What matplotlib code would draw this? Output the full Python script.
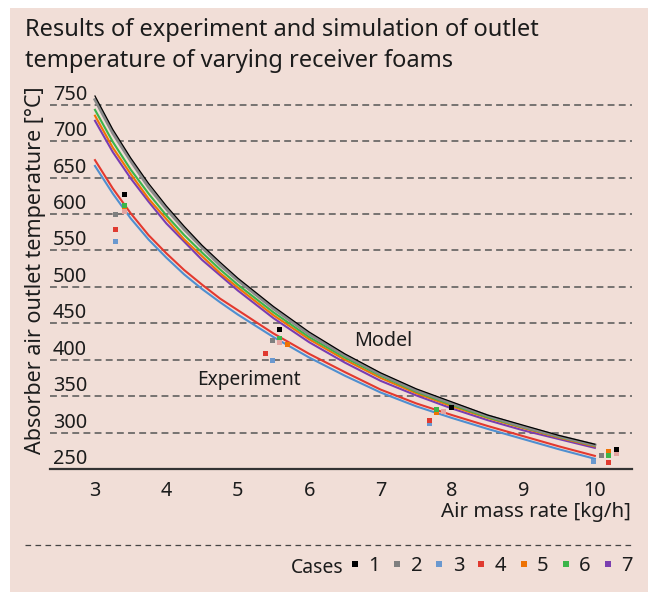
import matplotlib
matplotlib.use("Agg")
from matplotlib import pyplot as plt
from matplotlib.lines import Line2D
from matplotlib.patches import Rectangle

plt.rcParams['font.family'] = ['Noto Sans', 'DejaVu Sans']

# model curves (simulation), outlet temperature in degC
mass_rate = [3, 3.25, 3.5, 3.75, 4, 4.25, 4.5, 4.75, 5, 5.5, 6, 6.5, 7, 7.5, 8, 8.5, 9, 9.5, 10]
model_case1 = [762, 716, 677, 642, 611, 583, 557, 534, 512, 473, 438, 408, 382, 360, 342, 324, 310, 296, 284]
model_case2 = [757, 711, 673, 637, 607, 579, 554, 530, 509, 470, 435, 406, 380, 358, 340, 323, 308, 295, 283]
model_case3 = [666, 628, 594, 565, 540, 517, 497, 479, 462, 431, 403, 378, 355, 336, 320, 305, 291, 277, 264]
model_case4 = [674, 635, 601, 571, 546, 523, 503, 484, 468, 436, 408, 383, 359, 340, 324, 309, 295, 281, 268]
model_case5 = [735, 691, 655, 621, 593, 565, 542, 519, 499, 461, 428, 400, 375, 354, 336, 320, 306, 293, 281]
model_case6 = [743, 699, 661, 628, 598, 571, 547, 524, 503, 465, 431, 403, 378, 356, 338, 321, 307, 294, 282]
model_case7 = [728, 685, 649, 617, 587, 562, 537, 516, 495, 457, 424, 396, 371, 351, 333, 317, 303, 291, 279]

# experiment points
exp_x_case1 = [3.40, 5.58, 7.99, 10.29]
exp_t_case1 = [627, 442, 335, 277]
exp_x_case2 = [3.28, 5.48, 10.08]
exp_t_case2 = [600, 427, 269]
exp_x_case3 = [3.28, 5.48, 7.68, 9.98]
exp_t_case3 = [563, 400, 313, 261]
exp_x_case4 = [3.28, 5.38, 7.68, 10.19]
exp_t_case4 = [579, 409, 317, 259]
exp_x_case5 = [3.40, 5.69, 7.78, 10.19]
exp_t_case5 = [608, 421, 328, 275]
exp_x_case6 = [3.40, 5.58, 7.78, 10.19]
exp_t_case6 = [612, 430, 333, 269]
exp_x_case7 = [3.40, 5.58, 7.88, 10.29]
exp_t_case7 = [604, 424, 329, 272]

case_names = ["1", "2", "3", "4", "5", "6", "7"]
line_colors = ["#000000", "#8a8a8a", "#4f8fd0", "#e3392f", "#ef7406", "#3cb54a", "#7a3db2"]
marker_colors = ["#000000", "#7f7f7f", "#6a98cf", "#e03a30", "#ee7203", "#3cb54a", "#7b3fb0"]
exp_colors = ["#000000", "#7f7f7f", "#6a98cf", "#e03a30", "#ee7203", "#3cb54a", "#e4a4a0"]

bg = "#f1ded7"
txt = "#1c1c1c"

fig = plt.figure(figsize=(6.48, 5.92), dpi=100)
fig.patches.append(Rectangle((10 / 648, 0), 638 / 648, 584 / 592, transform=fig.transFigure,
                             facecolor=bg, edgecolor='none', zorder=-10))

ax = fig.add_axes([50 / 648, 123 / 592, 582 / 648, 381 / 592])
ax.patch.set_alpha(0)

models = [model_case1, model_case2, model_case3, model_case4, model_case5, model_case6, model_case7]
# lower curves first, thin black line on top of the wide gray one
order = [2, 3, 6, 4, 5, 1, 0]
widths = {0: 0.9, 1: 2.2}
for i in order:
    ax.plot(mass_rate, models[i], color=line_colors[i], lw=widths.get(i, 1.5), zorder=3,
            solid_joinstyle='round')

exp_x = [exp_x_case1, exp_x_case2, exp_x_case3, exp_x_case4, exp_x_case5, exp_x_case6, exp_x_case7]
exp_t = [exp_t_case1, exp_t_case2, exp_t_case3, exp_t_case4, exp_t_case5, exp_t_case6, exp_t_case7]
for i in [2, 3, 1, 4, 5, 6, 0]:
    ax.plot(exp_x[i], exp_t[i], 's', ls='none', ms=3.6, color=exp_colors[i], mew=0, zorder=4)

ax.set_xlim(2.37, 10.52)
ax.set_ylim(250, 773)
ax.set_xticks(range(3, 11))
ax.set_yticks(range(250, 751, 50))

ax.set_axisbelow(True)
ax.yaxis.grid(True, color="#555555", lw=1.1, linestyle=(0, (4.5, 2.8)))
for s in ['top', 'right', 'left']:
    ax.spines[s].set_visible(False)
ax.spines['bottom'].set_color('#333333')
ax.spines['bottom'].set_linewidth(1.6)

ax.tick_params(axis='y', length=0, pad=-26.6, labelsize=14.3, labelcolor=txt)
ax.tick_params(axis='x', length=0, pad=9, labelsize=14.3, labelcolor=txt)
for t in ax.yaxis.get_major_ticks():
    t.label1.set_verticalalignment('bottom')

ax.text(7.03, 426, "Model", ha='center', va='center', fontsize=14.2, color=txt)
ax.text(5.16, 372, "Experiment", ha='center', va='center', fontsize=13.8, color=txt)

fig.text(36 / 648, 1 - 270 / 592, "Absorber air outlet temperature [°C]", rotation=90,
         ha='center', va='center', fontsize=15.5, color=txt)
fig.text(631 / 648, 1 - 517 / 592, "Air mass rate [kg/h]", ha='right', va='baseline',
         fontsize=14.8, color=txt)

fig.text(25 / 648, 1 - 36 / 592, "Results of experiment and simulation of outlet",
         ha='left', va='baseline', fontsize=17, color=txt)
fig.text(25 / 648, 1 - 67 / 592, "temperature of varying receiver foams",
         ha='left', va='baseline', fontsize=17, color=txt)

# dashed separator above legend
fig.add_artist(Line2D([25 / 648, 632 / 648], [47 / 592, 47 / 592], transform=fig.transFigure,
                      color="#444444", lw=0.9, linestyle=(0, (4.5, 3.5))))

fig.text(291 / 648, 1 - 573 / 592, "Cases", ha='left', va='baseline', fontsize=14, color=txt)
handles = [Line2D([], [], marker='s', ls='none', ms=4.8, mew=0, color=c) for c in marker_colors]
fig.legend(handles, case_names, ncol=7, loc='center left', bbox_to_anchor=(350 / 648, 1 - 566 / 592),
           frameon=False, handlelength=0.5, handletextpad=0.42, columnspacing=0.6,
           fontsize=14.5, borderpad=0, borderaxespad=0, labelcolor=txt)

fig.savefig("out.png", dpi=100, facecolor="white")
